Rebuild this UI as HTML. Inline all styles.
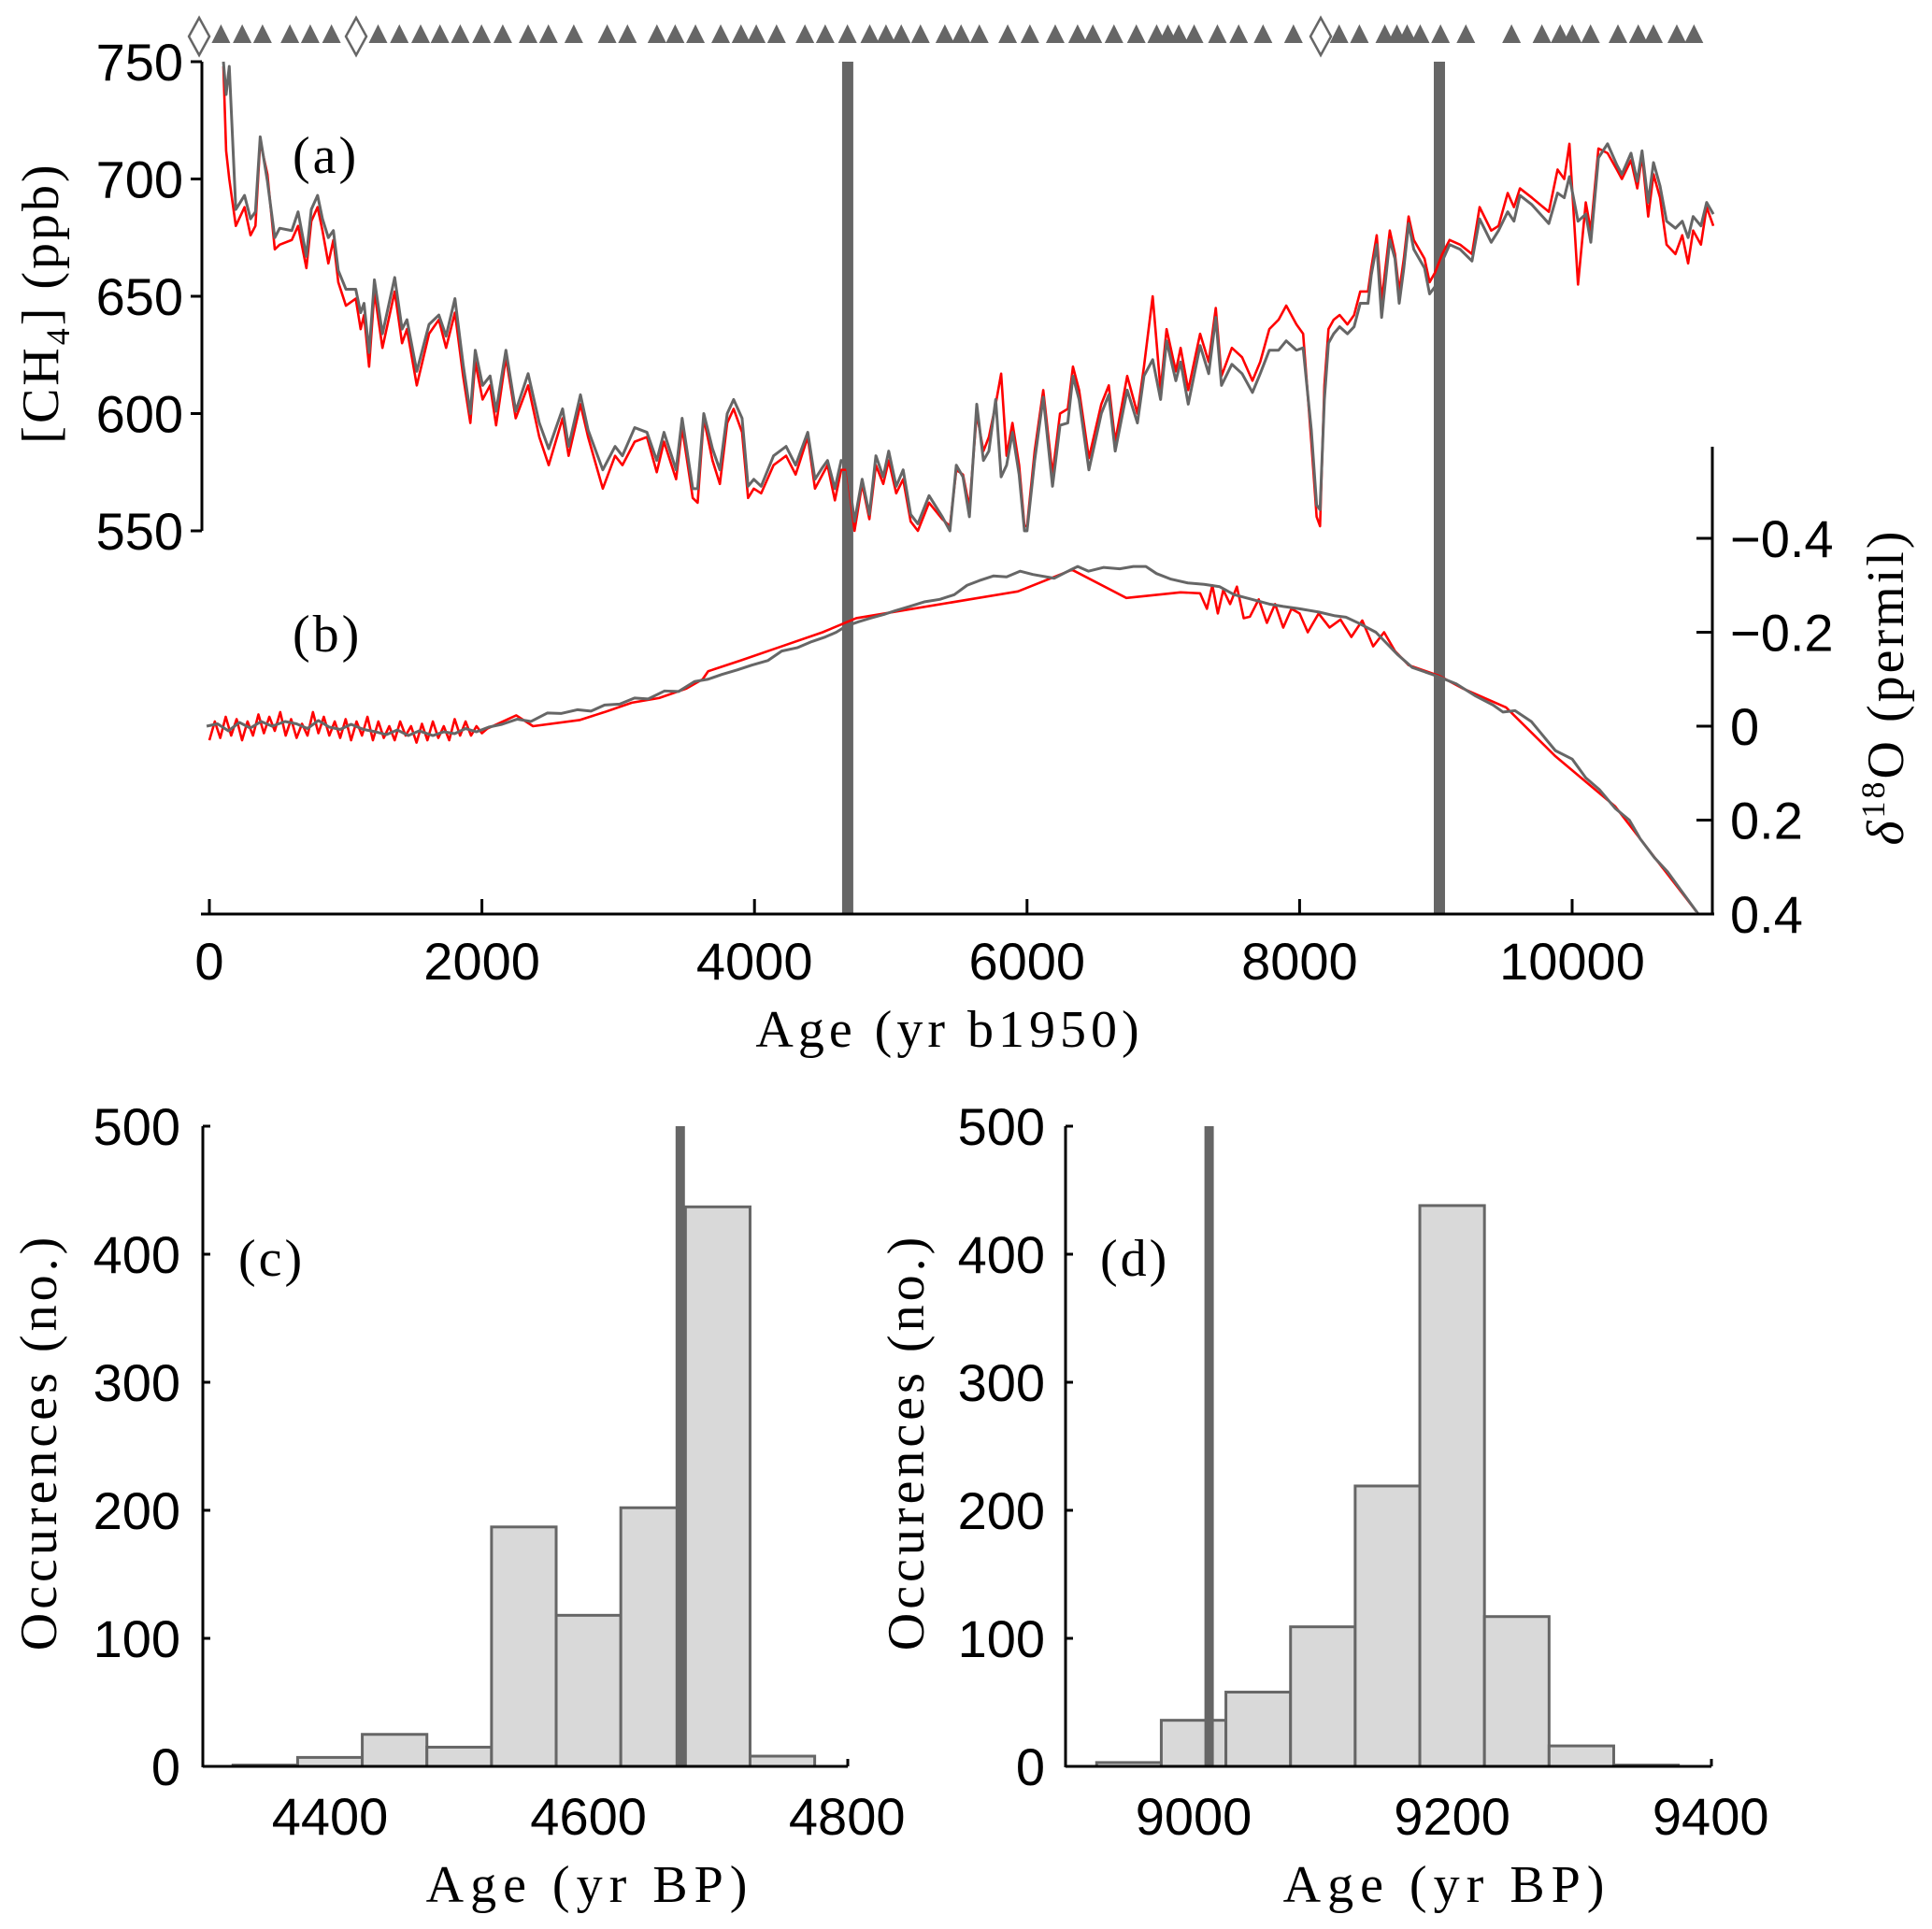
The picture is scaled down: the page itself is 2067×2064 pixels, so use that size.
<!DOCTYPE html>
<html><head><meta charset="utf-8"><style>
html,body{margin:0;padding:0;background:#fff;}
svg{display:block;}
.tk{font-family:"Liberation Sans",sans-serif;font-size:56px;fill:#000;}
.tt{font-family:"Liberation Serif",serif;font-size:56px;fill:#000;letter-spacing:3px;}
</style></head><body>
<svg id="fig" width="2067" height="2064" viewBox="0 0 2067 2064" xmlns="http://www.w3.org/2000/svg">
<g id="gA"></g>
<g id="gB"></g>
<g id="gC"></g>
<g id="gD"></g>
<g id="gM"></g>
<text class="tt" x="1016" y="1120" text-anchor="middle" style="letter-spacing:5px">Age (yr b1950)</text>
<text class="tt" transform="translate(62,324) rotate(-90)" text-anchor="middle">[CH<tspan font-size="36" dy="12">4</tspan><tspan dy="-12">] (ppb)</tspan></text>
<text class="tt" transform="translate(2036,735) rotate(-90)" text-anchor="middle"><tspan font-style="italic">δ</tspan><tspan font-size="36" dy="-20">18</tspan><tspan dy="20">O (permil)</tspan></text>
<text class="tt" x="313" y="185">(a)</text>
<text class="tt" x="313" y="697">(b)</text>
<text class="tt" x="255" y="1365">(c)</text>
<text class="tt" x="1177" y="1365">(d)</text>
<text class="tt" x="631" y="2035" text-anchor="middle" style="letter-spacing:7px">Age (yr BP)</text>
<text class="tt" x="1548" y="2035" text-anchor="middle" style="letter-spacing:7px">Age (yr BP)</text>
<text class="tt" transform="translate(60,1543) rotate(-90)" text-anchor="middle" style="letter-spacing:4px">Occurences (no.)</text>
<text class="tt" transform="translate(988,1543) rotate(-90)" text-anchor="middle" style="letter-spacing:4px">Occurences (no.)</text>
</svg>
<script>
// ---- Panel a data ----
const chAge = [103,123,146,194,258,302,338,373,426,480,516,605,651,712,748,794,830,873,910,946,1002,1074,1110,1135,1172,1211,1270,1360,1414,1450,1522,1612,1684,1737,1802,1862,1915,1951,2005,2060,2104,2176,2248,2339,2421,2490,2592,2636,2723,2779,2887,2977,3031,3121,3211,3283,3336,3425,3469,3547,3583,3628,3692,3746,3800,3847,3909,3953,3995,4049,4140,4232,4302,4391,4444,4499,4536,4590,4636,4679,4734,4790,4843,4891,4945,4985,5040,5091,5146,5199,5281,5378,5434,5481,5530,5577,5631,5680,5720,5770,5810,5850,5893,5942,5981,6000,6056,6119,6187,6242,6299,6337,6382,6454,6545,6600,6647,6735,6810,6858,6922,6980,7024,7092,7127,7183,7270,7333,7385,7427,7503,7578,7654,7711,7778,7846,7902,7977,8026,8086,8125,8150,8182,8212,8250,8294,8351,8400,8445,8502,8526,8566,8602,8662,8700,8731,8765,8800,8838,8917,8954,8993,9047,9101,9178,9265,9321,9406,9460,9527,9573,9617,9705,9829,9893,9942,9980,10043,10100,10137,10193,10260,10328,10365,10432,10478,10513,10558,10597,10645,10693,10758,10808,10851,10888,10945,10987,11036];
const chGray = [750,736,748,687,693,683,686,718,699,675,679,678,686,667,687,693,683,675,678,661,653,653,643,647,626,657,634,658,636,640,618,638,642,633,649,621,600,627,612,616,601,627,601,617,596,585,602,586,608,593,576,586,582,594,592,580,592,576,598,568,568,600,585,576,600,606,598,569,572,569,582,586,578,592,572,577,580,568,580,578,554,572,557,582,573,584,569,576,557,553,565,556,550,578,573,556,604,580,584,606,573,578,592,574,550,550,580,607,569,595,596,616,606,576,600,608,584,610,596,616,623,606,631,614,622,604,629,617,641,612,621,617,609,617,627,627,631,627,628,593,561,559,606,630,634,637,634,637,647,647,659,672,641,674,666,647,662,681,670,662,651,654,665,672,670,665,683,673,678,686,682,693,689,681,694,692,701,682,685,673,709,715,706,702,711,699,712,690,707,697,682,679,682,675,684,680,690,685];
const chRed = [748,712,700,680,688,676,680,716,702,670,672,674,680,662,682,688,678,664,674,656,646,649,636,642,620,652,628,652,630,636,612,634,640,628,643,616,596,622,606,612,595,624,598,612,590,578,598,582,604,590,568,582,578,588,590,575,588,572,594,564,562,598,580,570,596,602,592,564,568,566,578,582,574,590,568,574,578,563,576,576,550,570,555,578,570,580,566,572,554,550,562,555,552,576,574,560,600,584,590,604,617,582,596,578,552,552,584,610,574,600,602,620,610,581,604,612,588,616,600,620,650,610,636,618,628,610,634,622,645,616,628,624,614,622,636,640,646,638,634,588,556,552,612,636,640,642,638,642,652,652,662,676,648,678,668,652,666,684,674,666,656,660,668,674,672,668,688,678,680,694,688,696,692,686,704,700,715,655,690,678,713,711,704,700,708,696,710,684,702,692,672,668,676,664,678,672,688,680];
const chTicks = [550,600,650,700,750];
const ageTicks = [0,2000,4000,6000,8000,10000];
const eventAges = [4684,9026];
// ---- Panel b data ----
const dAgeGray = [-20,60,140,220,300,380,460,556,640,720,800,880,960,1040,1132,1220,1300,1380,1460,1540,1640,1720,1800,1880,1960,2050,2147,2260,2360,2480,2580,2700,2800,2900,3011,3120,3220,3340,3444,3560,3660,3760,3876,3980,4100,4200,4313,4420,4520,4600,4672,4760,4850,4950,5034,5140,5250,5360,5466,5560,5650,5755,5850,5950,6043,6200,6300,6372,6450,6560,6680,6780,6872,6950,7057,7180,7300,7414,7520,7650,7778,7880,8000,8141,8260,8340,8429,8560,8717,8827,9005,9150,9293,9420,9493,9581,9700,9877,10000,10100,10200,10316,10420,10500,10604,10700,10800,10926];
const dGray = [0,-0.005,0.01,-0.008,0.004,-0.01,0,-0.01,-0.005,0.005,-0.012,0.002,0.007,-0.004,0.007,0.012,0.018,0.008,0.02,0.01,0.02,0.012,0.016,0.005,0.012,0.002,-0.004,-0.015,-0.01,-0.028,-0.027,-0.035,-0.032,-0.045,-0.047,-0.06,-0.058,-0.075,-0.074,-0.095,-0.1,-0.11,-0.12,-0.13,-0.14,-0.16,-0.167,-0.18,-0.19,-0.2,-0.213,-0.222,-0.23,-0.238,-0.246,-0.255,-0.265,-0.27,-0.28,-0.3,-0.31,-0.32,-0.318,-0.33,-0.323,-0.315,-0.33,-0.34,-0.33,-0.338,-0.335,-0.34,-0.34,-0.325,-0.313,-0.305,-0.302,-0.297,-0.28,-0.27,-0.26,-0.255,-0.25,-0.243,-0.235,-0.232,-0.22,-0.2,-0.153,-0.125,-0.107,-0.09,-0.064,-0.045,-0.03,-0.033,-0.01,0.052,0.07,0.11,0.135,0.175,0.2,0.24,0.28,0.31,0.35,0.4];
const dAgeRed = [0,40,80,120,160,200,240,280,320,360,400,440,480,520,560,600,640,680,720,760,800,840,880,920,960,1000,1040,1080,1120,1160,1200,1240,1280,1320,1360,1400,1440,1480,1520,1560,1600,1640,1680,1720,1760,1800,1840,1880,1920,1960,2000,2040,2252,2375,2716,2900,3100,3300,3500,3620,3660,3900,4200,4500,4747,5933,6331,6729,7126,7270,7320,7360,7400,7440,7490,7540,7590,7635,7700,7760,7820,7880,7940,8000,8060,8140,8220,8300,8380,8460,8540,8620,8700,8800,9026,9200,9515,9877,10316,10926];
const dRed = [0.03,-0.01,0.025,-0.02,0.02,-0.015,0.03,-0.01,0.02,-0.025,0.015,-0.02,0.01,-0.03,0.02,-0.015,0.025,-0.005,0.02,-0.03,0.015,-0.02,0.02,-0.01,0.025,-0.015,0.03,-0.01,0.02,-0.02,0.03,-0.01,0.025,0.0,0.03,-0.01,0.02,0.0,0.035,-0.005,0.03,-0.01,0.025,0.0,0.03,-0.015,0.02,-0.01,0.02,0.0,0.015,0.005,-0.023,0,-0.013,-0.03,-0.05,-0.06,-0.08,-0.1,-0.117,-0.14,-0.17,-0.2,-0.23,-0.287,-0.333,-0.273,-0.285,-0.283,-0.25,-0.3,-0.24,-0.29,-0.26,-0.297,-0.23,-0.233,-0.27,-0.22,-0.26,-0.21,-0.25,-0.24,-0.2,-0.24,-0.21,-0.227,-0.19,-0.225,-0.17,-0.2,-0.16,-0.13,-0.107,-0.08,-0.04,0.064,0.171,0.4];
const dTicks = [-0.4,-0.2,0,0.2,0.4];
const dTickLabels = ["\u22120.4","\u22120.2","0","0.2","0.4"];
// ---- markers ----
const triAges = [85,241,390,591,740,896,1238,1394,1550,1692,1841,1997,2153,2339,2488,2674,2919,3068,3284,3418,3567,3752,3901,4013,4162,4370,4519,4682,4846,4965,5077,5218,5397,5516,5650,5858,6021,6207,6371,6483,6638,6802,6951,7033,7114,7226,7397,7553,7732,7955,8290,8439,8625,8714,8789,8885,9034,9220,9555,9778,9912,10001,10135,10336,10485,10597,10768,10894];
const diaAges = [-75,1077,8155];
// ---- histograms ----
const cEdges = [4325,4375,4425,4475,4525,4575,4625,4675,4725,4775];
const cCounts = [1,7,25,15,187,118,202,437,8];
const cEvent = 4671;
const cXTicks = [4400,4600,4800];
const dEdges = [8925,8975,9025,9075,9125,9175,9225,9275,9325,9375];
const dCounts = [3,36,58,109,219,438,117,16,1];
const dEvent = 9012;
const dXTicks = [9000,9200,9400];
const hYTicks = [0,100,200,300,400,500];

const NS = "http://www.w3.org/2000/svg";
function mk(parent, tag, attrs){const e=document.createElementNS(NS,tag);for(const k in attrs)e.setAttribute(k,attrs[k]);parent.appendChild(e);return e;}
const ax = a => 224 + a*0.1458;
const ych = v => 66 + (750 - Math.min(750,Math.max(550,v)))*2.51;
const yd = v => 777 + v*502.5;

// Panel a
const gA = document.getElementById('gA');
let ev;
ev = mk(gA,'line',{x1:ax(eventAges[0]),x2:ax(eventAges[0]),y1:66,y2:978,stroke:'#666','stroke-width':12});


ev = mk(gA,'line',{x1:ax(eventAges[1]),x2:ax(eventAges[1]),y1:66,y2:978,stroke:'#666','stroke-width':12});


let pr = mk(gA,'polyline',{points:chAge.map((a,i)=>ax(a)+','+ych(chRed[i])).join(' '),fill:'none',stroke:'#ff0000','stroke-width':2.6,'stroke-linejoin':'round'});


let pg = mk(gA,'polyline',{points:chAge.map((a,i)=>ax(a)+','+ych(chGray[i])).join(' '),fill:'none',stroke:'#666','stroke-width':3,'stroke-linejoin':'round'});


let la = mk(gA,'line',{x1:216,x2:216,y1:66,y2:568,stroke:'#000','stroke-width':3});


chTicks.forEach(t=>{
  const l=mk(gA,'line',{x1:204,x2:216,y1:ych(t),y2:ych(t),stroke:'#000','stroke-width':3});
  
  
  const tx=mk(gA,'text',{x:196,y:ych(t)+20,'text-anchor':'end',class:'tk'});tx.textContent=t;
  
  
});
let xa = mk(gA,'line',{x1:215,x2:1834,y1:978,y2:978,stroke:'#000','stroke-width':3});


ageTicks.forEach(t=>{
  const l=mk(gA,'line',{x1:ax(t),x2:ax(t),y1:962,y2:978,stroke:'#000','stroke-width':3});
  
  
  const tx=mk(gA,'text',{x:ax(t),y:1048,'text-anchor':'middle',class:'tk'});tx.textContent=t;
  
  
});

// Panel b
const gB = document.getElementById('gB');
let br = mk(gB,'polyline',{points:dAgeRed.map((a,i)=>ax(a)+','+yd(dRed[i])).join(' '),fill:'none',stroke:'#ff0000','stroke-width':2.6,'stroke-linejoin':'round'});


let bg = mk(gB,'polyline',{points:dAgeGray.map((a,i)=>ax(a)+','+yd(dGray[i])).join(' '),fill:'none',stroke:'#666','stroke-width':3,'stroke-linejoin':'round'});


let ra = mk(gB,'line',{x1:1832,x2:1832,y1:478,y2:979,stroke:'#000','stroke-width':3});


dTicks.forEach((t,i)=>{
  const l=mk(gB,'line',{x1:1815,x2:1832,y1:yd(t),y2:yd(t),stroke:'#000','stroke-width':3});
  
  
  const tx=mk(gB,'text',{x:1851,y:yd(t)+20,class:'tk'});tx.textContent=dTickLabels[i];
  
  
});

// markers
const gM = document.getElementById('gM');
triAges.forEach(a=>{
  const x=ax(a);
  const p=mk(gM,'polygon',{points:(x-10)+',46 '+(x+10)+',46 '+x+',26',fill:'#666'});
  
  
});
diaAges.forEach(a=>{
  const x=ax(a);
  const p=mk(gM,'polygon',{points:x+',19 '+(x+11)+',39 '+x+',59 '+(x-11)+',39',fill:'#fff',stroke:'#666','stroke-width':2.5});
  
  
});

// histograms
function hist(g, edges, counts, ev, xticks, x0, a0, left, right, labX, nm){
  const hx = a => x0 + (a-a0)*1.383;
  const hy = n => 1890 - n*1.37;
  counts.forEach((c,i)=>{
    const r=mk(g,'rect',{x:hx(edges[i]),y:hy(c),width:hx(edges[i+1])-hx(edges[i]),height:1890-hy(c),fill:'#d9d9d9',stroke:'#666','stroke-width':3});
    
    
  });
  const e=mk(g,'line',{x1:hx(ev),x2:hx(ev),y1:1205,y2:1890,stroke:'#666','stroke-width':10});
  
  
  const ya=mk(g,'line',{x1:left,x2:left,y1:1205,y2:1891,stroke:'#000','stroke-width':3});
  
  
  const xa=mk(g,'line',{x1:left,x2:right,y1:1890,y2:1890,stroke:'#000','stroke-width':3});
  
  
  const rt=mk(g,'line',{x1:right,x2:right,y1:1882,y2:1890,stroke:'#000','stroke-width':3});
  
  
  hYTicks.forEach(t=>{
    const l=mk(g,'line',{x1:left,x2:left+8,y1:hy(t),y2:hy(t),stroke:'#000','stroke-width':3});
    
    
    const tx=mk(g,'text',{x:labX,y:hy(t)+20,'text-anchor':'end',class:'tk'});tx.textContent=t;
    
    
  });
  xticks.forEach(t=>{
    const tx=mk(g,'text',{x:hx(t),y:1963,'text-anchor':'middle',class:'tk'});tx.textContent=t;
    
    
  });
}
hist(document.getElementById('gC'), cEdges, cCounts, cEvent, cXTicks, 353, 4400, 217, 907, 193, 'hist-c');
hist(document.getElementById('gD'), dEdges, dCounts, dEvent, dXTicks, 1277, 9000, 1140, 1831, 1118, 'hist-d');
</script>
</body></html>
